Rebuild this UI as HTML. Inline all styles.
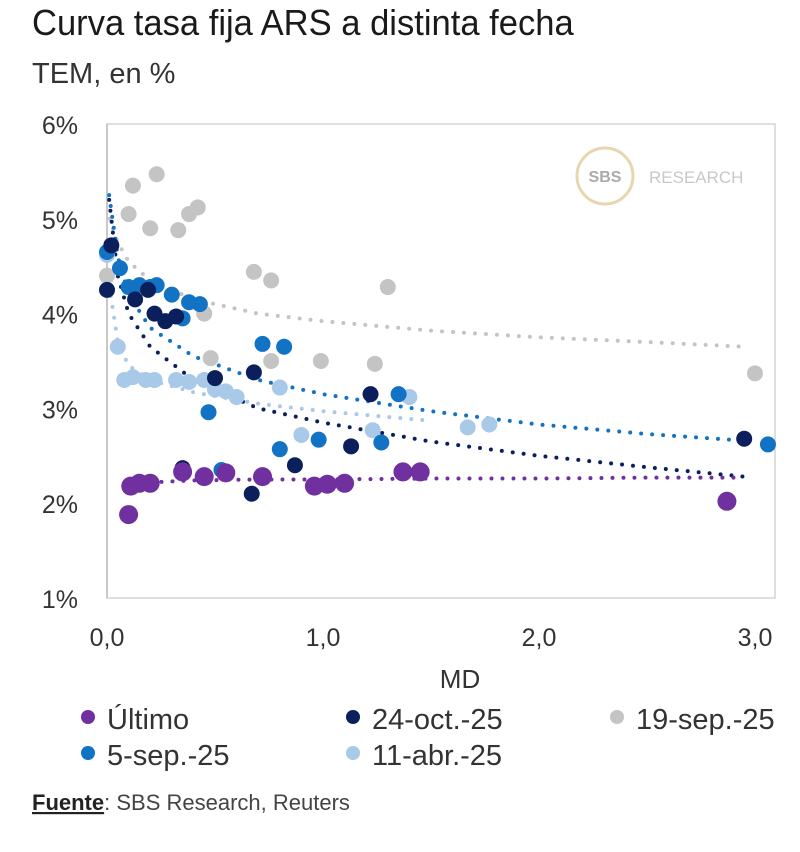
<!DOCTYPE html>
<html><head><meta charset="utf-8">
<style>
body{margin:0;background:#fff;width:800px;height:852px;overflow:hidden;font-family:"Liberation Sans",sans-serif;}
.t{position:absolute;color:#222;}
</style></head>
<body>
<div class="t" style="left:32px;top:2px;font-size:36px;color:#1a1a1a;transform:scaleX(0.96);transform-origin:left top;white-space:nowrap;">Curva tasa fija ARS a distinta fecha</div>
<div class="t" style="left:32px;top:58px;font-size:29px;color:#333;white-space:nowrap;">TEM, en %</div>
<svg id="chart" width="800" height="852" style="position:absolute;left:0;top:0"></svg>
<script>
const seriesNames=["Último","24-oct.-25","19-sep.-25","5-sep.-25","11-abr.-25"];
const seriesColors=["#7030a0","#0a1f5c","#c4c4c4","#1272c4","#a9c9e9"];
const ultX=[0.1,0.11,0.15,0.2,0.35,0.45,0.55,0.72,0.96,1.02,1.1,1.37,1.45,2.87];
const ultY=[1.88,2.18,2.21,2.21,2.33,2.28,2.32,2.28,2.18,2.2,2.21,2.33,2.33,2.02];
const octX=[0.02,0.0,0.13,0.19,0.22,0.27,0.32,0.5,0.68,0.35,0.67,0.87,1.13,1.22,2.95];
const octY=[4.72,4.25,4.15,4.25,4.0,3.92,3.97,3.32,3.38,2.37,2.1,2.4,2.6,3.15,2.68];
const sepAX=[0.12,0.23,0.1,0.2,0.33,0.38,0.42,0.0,0.68,0.76,1.3,0.48,0.76,0.99,1.24,0.45,3.0];
const sepAY=[5.35,5.47,5.05,4.9,4.88,5.05,5.12,4.4,4.44,4.35,4.28,3.53,3.5,3.5,3.47,4.0,3.37];
const sepBX=[0.0,0.06,0.1,0.15,0.2,0.23,0.3,0.38,0.43,0.35,0.72,0.82,0.47,0.8,0.98,1.27,1.35,0.53,3.06];
const sepBY=[4.65,4.48,4.28,4.3,4.28,4.3,4.2,4.12,4.1,3.95,3.68,3.65,2.96,2.57,2.67,2.64,3.15,2.35,2.62];
const abrX=[0.0,0.05,0.08,0.12,0.18,0.22,0.32,0.38,0.45,0.5,0.55,0.6,0.8,0.9,1.23,1.4,1.67,1.77];
const abrY=[4.62,3.65,3.3,3.33,3.3,3.3,3.3,3.28,3.3,3.2,3.18,3.12,3.22,2.72,2.77,3.12,2.8,2.83];
const trendX=[0.01,0.05,0.1,0.2,0.4,0.7,1,1.5,2,2.5,2.95];
const trendUlt=[null,null,2.2,2.22,2.24,2.25,2.25,2.26,2.26,2.27,2.27];
const trendOct=[5.2,4.4,4.0,3.65,3.3,3.0,2.85,2.65,2.5,2.38,2.28];
const trendSepA=[5.0,4.75,4.55,4.35,4.15,4.0,3.92,3.82,3.75,3.7,3.65];
const trendSepB=[5.25,4.6,4.2,3.85,3.55,3.3,3.15,2.97,2.83,2.73,2.66];
const trendAbr=[4.3,3.7,3.45,3.3,3.17,3.05,2.97,2.87,null,null,null];
const yTicks=[1,2,3,4,5,6];
const xTicks=[0,1,2,3];

const NS="http://www.w3.org/2000/svg";
const svg=document.getElementById('chart');
const X=v=>107+v*216;
const Y=v=>598-(v-1)*94.8;
function mk(tag,attrs,parent){const e=document.createElementNS(NS,tag);for(const k in attrs)e.setAttribute(k,attrs[k]);(parent||svg).appendChild(e);return e;}

const box=mk('rect',{x:107,y:124,width:668,height:474,fill:'none',stroke:'#d4d4d4','stroke-width':1.5});


const yl=mk('line',{x1:107,y1:124,x2:107,y2:598,stroke:'#c8c8c8','stroke-width':2});



yTicks.forEach(v=>{const t=mk('text',{x:78,y:Y(v)+10,'text-anchor':'end','font-size':25,fill:'#333'});t.textContent=v+'%';

});
xTicks.forEach(v=>{const t=mk('text',{x:X(v),y:646,'text-anchor':'middle','font-size':25,fill:'#333'});t.textContent=v.toFixed(1).replace('.',',');

});
const xt=mk('text',{x:460,y:688,'text-anchor':'middle','font-size':26,fill:'#333'});xt.textContent='MD';



const lg=mk('g',{});


mk('circle',{cx:605,cy:176,r:28,fill:'none',stroke:'#e8d6b0','stroke-width':3},lg);
const l1=mk('text',{x:605,y:182,'text-anchor':'middle','font-size':16,'font-weight':'bold',fill:'#aaa'},lg);l1.textContent='SBS';
const l2=mk('text',{x:649,y:183,'font-size':17,fill:'#c8c8c8'},lg);l2.textContent='RESEARCH';

const trends=[trendUlt,trendOct,trendSepA,trendSepB,trendAbr];
const xs=[ultX,octX,sepAX,sepBX,abrX], ys=[ultY,octY,sepAY,sepBY,abrY];
const order=[2,4,3,1,0];
order.forEach(i=>{
  const pts=[];trendX.forEach((x,j)=>{if(trends[i][j]!=null)pts.push(X(x)+','+Y(trends[i][j]));});
  const p=mk('polyline',{points:pts.join(' '),fill:'none',stroke:seriesColors[i],'stroke-width':4,'stroke-dasharray':'0 11','stroke-linecap':'round'});
  
  
});
order.forEach(i=>{
  xs[i].forEach((x,j)=>{const r=i==0?9.5:8;const c=mk('circle',{cx:X(x),cy:Y(ys[i][j]),r:r,fill:seriesColors[i]});
  
  });
});

const legPos=[[87,718],[352,718],[616,718],[87,754],[352,754]];
seriesNames.forEach((n,i)=>{
  const g=mk('g',{});
  
  
  mk('circle',{cx:legPos[i][0]+1,cy:legPos[i][1]-1,r:7,fill:seriesColors[i]},g);
  const t=mk('text',{x:legPos[i][0]+20,y:legPos[i][1]+11,'font-size':29,fill:'#333'},g);t.textContent=n;
});
const src=mk('text',{x:32,y:810,'font-size':22,fill:'#444'});


const s1=mk('tspan',{'text-decoration':'underline','font-weight':'bold',fill:'#222'},src);s1.textContent='Fuente';
const s2=mk('tspan',{},src);s2.textContent=': SBS Research, Reuters';
</script>
</body></html>
